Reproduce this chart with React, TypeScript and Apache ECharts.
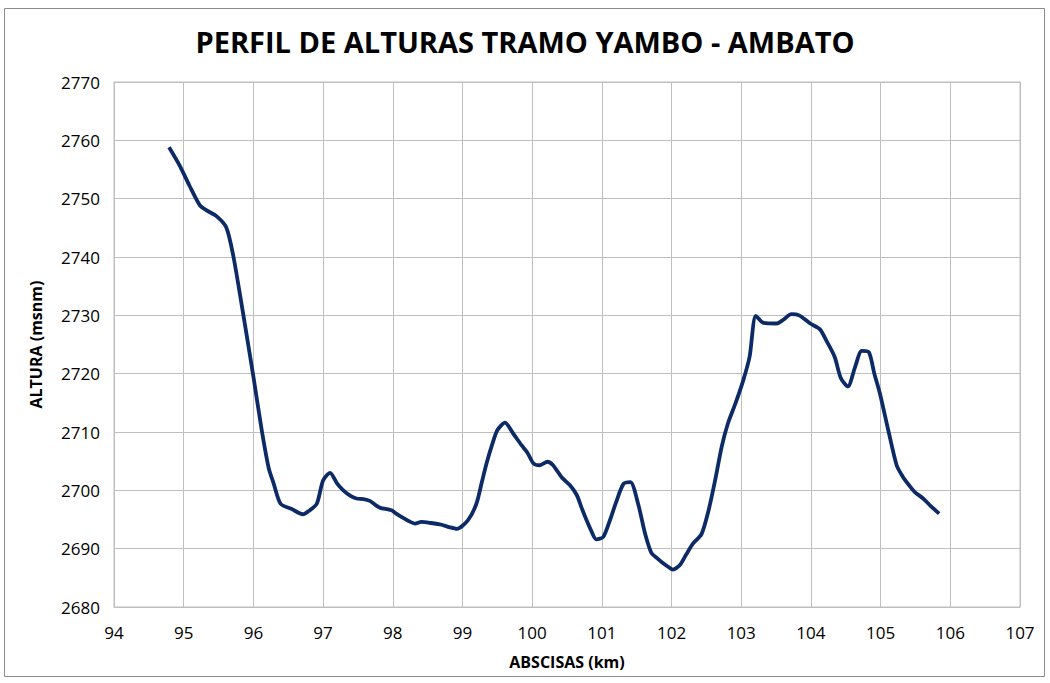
import React, { useEffect, useRef } from "react";
import * as echarts from "echarts";

const abscisas: number[] = [
  94.79, 94.95, 95.08, 95.23, 95.33, 95.47, 95.61, 95.71, 95.85, 96.0, 96.12, 96.22, 96.29, 96.39,
  96.55, 96.71, 96.8, 96.91, 97.0, 97.1, 97.2, 97.29, 97.4, 97.48, 97.58, 97.67, 97.75, 97.82,
  97.98, 98.05, 98.13, 98.22, 98.32, 98.41, 98.55, 98.7, 98.81, 98.92, 99.08, 99.2, 99.28, 99.35,
  99.43, 99.5, 99.61, 99.73, 99.85, 99.93, 100.02, 100.11, 100.22, 100.3, 100.42, 100.54, 100.64,
  100.71, 100.78, 100.85, 100.92, 101.02, 101.12, 101.2, 101.31, 101.41, 101.52, 101.62, 101.71,
  101.8, 101.88, 101.95, 102.02, 102.12, 102.21, 102.31, 102.43, 102.53, 102.63, 102.72, 102.81,
  102.92, 103.03, 103.12, 103.21, 103.32, 103.51, 103.6, 103.72, 103.83, 103.99, 104.13, 104.22,
  104.34, 104.43, 104.53, 104.63, 104.73, 104.83, 104.91, 104.99, 105.11, 105.23, 105.32, 105.4,
  105.49, 105.61, 105.72, 105.84,
];

const alturas: number[] = [
  2758.8, 2755.5, 2752.3, 2748.9, 2748.0, 2747.0, 2745.1, 2740.3, 2730.5, 2719.5, 2710.3, 2703.8,
  2701.2, 2697.7, 2696.8, 2695.9, 2696.5, 2697.7, 2701.7, 2703.0, 2701.2, 2700.0, 2699.0, 2698.6,
  2698.5, 2698.2, 2697.5, 2697.0, 2696.6, 2696.0, 2695.4, 2694.8, 2694.3, 2694.6, 2694.4, 2694.1,
  2693.7, 2693.4, 2694.9, 2697.7, 2701.5, 2704.8, 2708.0, 2710.3, 2711.6, 2709.7, 2707.7, 2706.5,
  2704.6, 2704.3, 2704.9, 2704.3, 2702.3, 2700.9, 2699.2, 2697.0, 2694.9, 2693.0, 2691.6, 2692.0,
  2695.0, 2697.8, 2701.1, 2701.4, 2697.7, 2692.6, 2689.3, 2688.3, 2687.5, 2686.9, 2686.4, 2687.2,
  2689.0, 2690.9, 2692.5, 2696.5, 2702.0, 2707.5, 2711.5, 2715.0, 2718.9, 2722.9, 2729.9, 2728.7,
  2728.6, 2729.2, 2730.2, 2730.0, 2728.6, 2727.6, 2725.7, 2722.9, 2719.2, 2717.8, 2721.0, 2723.9,
  2723.7, 2720.0, 2716.6, 2710.3, 2704.3, 2702.3, 2701.0, 2699.7, 2698.6, 2697.3, 2696.0,
];

const titleText = "PERFIL DE ALTURAS TRAMO YAMBO - AMBATO";
const xTitle = "ABSCISAS (km)";
const yTitle = "ALTURA (msnm)";

export default function App() {
  const ref = useRef<HTMLDivElement>(null);
  useEffect(() => {
    document.body.style.margin = "0";
    const chart = echarts.init(ref.current!, null, { renderer: "svg" });
    const font = "'Open Sans', sans-serif";
    chart.setOption({
      animation: false,
      backgroundColor: "#ffffff",
      textStyle: { fontFamily: font },
      title: {
        text: titleText,
        left: "center",
        top: 22,
        textStyle: { fontFamily: font, fontSize: 29, fontWeight: "bold", color: "#000000" },
      },
      graphic: [
        {
          type: "rect",
          shape: { x: 4.5, y: 8.5, width: 1040, height: 668 },
          style: { fill: "none", stroke: "#8c8c8c", lineWidth: 1 },
          silent: true,
        },
      ],
      grid: { left: 114, right: 30, top: 82, bottom: 76, containLabel: false, show: true, borderColor: "#bfbfbf", borderWidth: 1 },
      xAxis: {
        type: "value",
        min: 94,
        max: 107,
        interval: 1,
        name: xTitle,
        nameLocation: "middle",
        nameGap: 47,
        nameTextStyle: { fontFamily: font, fontSize: 16, fontWeight: "bold", color: "#000000" },
        axisLine: { show: true, lineStyle: { color: "#bfbfbf" } },
        axisTick: { show: false },
        axisLabel: { fontFamily: font, fontSize: 17, color: "#000000", margin: 17 },
        splitLine: { show: true, lineStyle: { color: "#bfbfbf", width: 1 } },
      },
      yAxis: {
        type: "value",
        min: 2680,
        max: 2770,
        interval: 10,
        name: yTitle,
        nameLocation: "middle",
        nameGap: 70,
        nameRotate: 90,
        nameTextStyle: { fontFamily: font, fontSize: 16, fontWeight: "bold", color: "#000000" },
        axisLine: { show: true, lineStyle: { color: "#bfbfbf" } },
        axisTick: { show: false },
        axisLabel: { fontFamily: font, fontSize: 17, color: "#000000", margin: 14, formatter: (v: number) => String(v) },
        splitLine: { show: true, lineStyle: { color: "#bfbfbf", width: 1 } },
      },
      series: [
        {
          type: "line",
          data: abscisas.map((x, i) => [x, alturas[i]]),
          showSymbol: false,
          smooth: 0.25,
          lineStyle: { color: "#0b2a66", width: 3.8 },
        },
      ],
    });
    return () => chart.dispose();
  }, []);
  return <div ref={ref} style={{ width: 1050, height: 683 }} />;
}
